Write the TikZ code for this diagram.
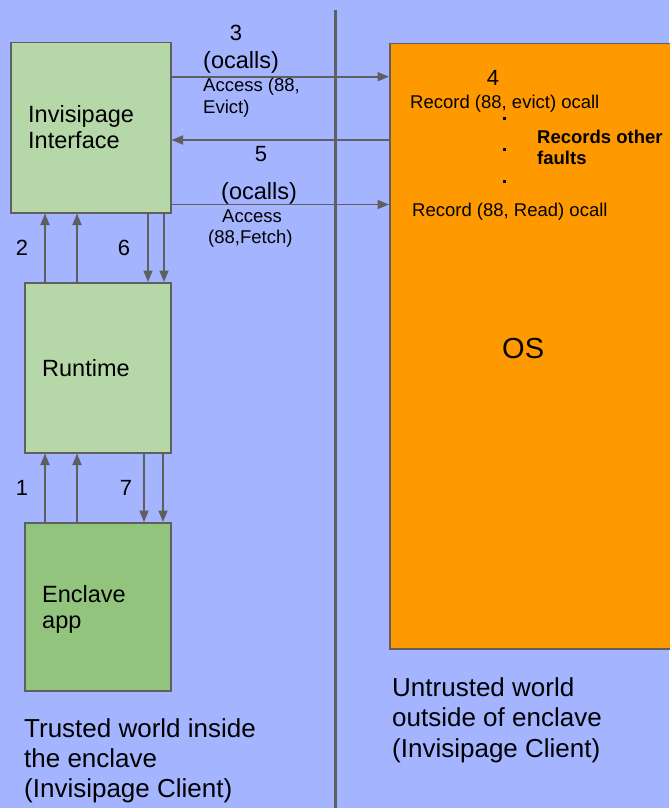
\documentclass[tikz,border=0pt]{standalone}
\usepackage{fontspec}
\setmainfont{Liberation Sans}
\usetikzlibrary{arrows.meta}

\definecolor{bgblue}{RGB}{164,180,255}
\definecolor{boxgreen}{RGB}{182,215,168}
\definecolor{appgreen}{RGB}{147,196,125}
\definecolor{osorange}{RGB}{255,153,0}
\definecolor{edgegray}{RGB}{95,95,95}

\newcommand\pxfont[1]{\fontsize{#1}{#1}\selectfont}

\begin{document}
\begin{tikzpicture}[x=1pt,y=-1pt,
  box/.style={rectangle,draw=edgegray,line width=1.5pt,anchor=north west,inner sep=0pt},
  arr/.style={draw=edgegray,line width=1.8pt,-{Triangle[length=11.5pt,width=9pt]}},
  divider/.style={draw=edgegray,line width=3pt},
  lbl/.style={inner sep=0pt,anchor=base west,text=black},
  clbl/.style={inner sep=0pt,anchor=base,text=black},
  boxtext/.style={lbl,font=\pxfont{23.5}},
  worldtext/.style={lbl,font=\pxfont{26}},
  numtext/.style={clbl,font=\pxfont{22}},
  calltext/.style={lbl,font=\pxfont{23.5}},
  smalltext/.style={lbl,font=\pxfont{18.5}},
  dotmark/.style={fill=black,inner sep=0pt,minimum size=3pt,rectangle}]

  % page and background
  \useasboundingbox (0,0) rectangle (669,808);
  \fill[bgblue] (0,0) rectangle (669,808);

  % boundary between trusted and untrusted worlds
  \coordinate (divtop) at (335.5,10);
  \coordinate (divbot) at (335.5,808);
  \draw[divider] (divtop) -- (divbot);

  % boxes
  \node[box,fill=boxgreen,minimum width=160pt,minimum height=170pt] (iface) at (10,42) {};
  \node[box,fill=boxgreen,minimum width=146pt,minimum height=170pt] (runtime) at (24,282) {};
  \node[box,fill=appgreen,minimum width=146pt,minimum height=168pt] (app) at (24,522) {};
  \node[box,fill=osorange,minimum width=300pt,minimum height=605pt] (os) at (389,43) {};

  % box titles
  \node[boxtext] (ifaceA) at (28,122) {Invisipage};
  \node[boxtext] (ifaceB) at (28,148) {Interface};
  \node[boxtext] (rtlbl) at (42,376) {Runtime};
  \node[boxtext] (appA) at (42,602) {Enclave};
  \node[boxtext] (appB) at (42,628) {app};
  \node[lbl,font=\pxfont{29}] (oslbl) at (502,358) {OS};

  % ocalls between the interface and the OS
  \draw[arr] (iface.east |- 0,76.7) -- (os.west |- 0,76.7);
  \draw[arr] (os.west |- 0,140) -- (iface.east |- 0,140);
  \draw[arr] (iface.east |- 0,204.5) -- (os.west |- 0,204.5);

  % calls between interface and runtime
  \draw[arr] (runtime.north -| 45,0) -- (iface.south -| 45,0);
  \draw[arr] (runtime.north -| 77,0) -- (iface.south -| 77,0);
  \draw[arr] (iface.south -| 148,0) -- (runtime.north -| 148,0);
  \draw[arr] (iface.south -| 164,0) -- (runtime.north -| 164,0);

  % calls between runtime and enclave app
  \draw[arr] (app.north -| 45,0) -- (runtime.south -| 45,0);
  \draw[arr] (app.north -| 77,0) -- (runtime.south -| 77,0);
  \draw[arr] (runtime.south -| 144,0) -- (app.north -| 144,0);
  \draw[arr] (runtime.south -| 163,0) -- (app.north -| 163,0);

  % step numbers
  \node[numtext] (n1) at (22,495) {1};
  \node[numtext] (n2) at (22,255) {2};
  \node[numtext] (n3) at (236,41) {3};
  \node[numtext] (n4) at (493,85) {4};
  \node[numtext] (n5) at (261,161) {5};
  \node[numtext] (n6) at (124,255) {6};
  \node[numtext] (n7) at (126,495) {7};

  % arrow labels
  \node[calltext] (oc1) at (203,68) {(ocalls)};
  \node[smalltext] (acc1a) at (203,92) {Access (88,};
  \node[smalltext] (acc1b) at (203,113) {Evict)};
  \node[calltext] (oc2) at (221,199) {(ocalls)};
  \node[smalltext] (acc2a) at (222,222) {Access};
  \node[smalltext] (acc2b) at (208,243) {(88,Fetch)};

  % records kept by the OS
  \node[smalltext] (rec1) at (410,108) {Record (88, evict) ocall};
  \node[dotmark] (d1) at (504,118) {};
  \node[dotmark] (d2) at (504,149) {};
  \node[dotmark] (d3) at (504,181) {};
  \node[smalltext,font=\pxfont{18.5}\bfseries] (othA) at (537,143) {Records other};
  \node[smalltext,font=\pxfont{18.5}\bfseries] (othB) at (537,164) {faults};
  \node[smalltext] (rec2) at (412,216) {Record (88, Read) ocall};

  % world captions
  \node[worldtext] (utA) at (392,696) {Untrusted world};
  \node[worldtext] (utB) at (392,726) {outside of enclave};
  \node[worldtext] (utC) at (392,757) {(Invisipage Client)};
  \node[worldtext] (trA) at (24,737) {Trusted world inside};
  \node[worldtext] (trB) at (24,767) {the enclave};
  \node[worldtext] (trC) at (24,797) {(Invisipage Client)};
\end{tikzpicture}
\end{document}
